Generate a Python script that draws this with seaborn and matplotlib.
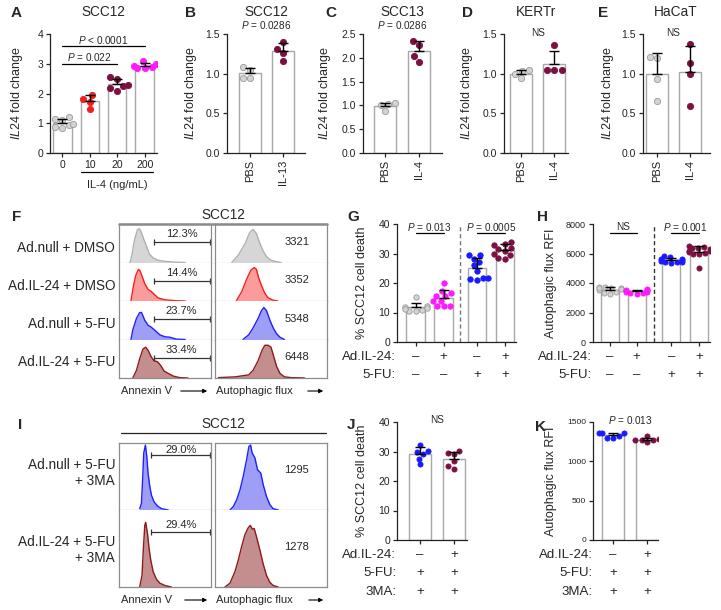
import numpy as np
import pandas as pd
import matplotlib
matplotlib.use("Agg")
import matplotlib.pyplot as plt
import seaborn as sns
from matplotlib.lines import Line2D
from matplotlib.ticker import FormatStrFormatter

# ---- data ----
GRAY, RED, MAROON, MAGENTA, BLUE = "#d3d3d3", "#f21d1d", "#7c1040", "#ff19ff", "#1a1aff"

a_groups = ["0", "10", "20", "200"]
a_vals = [[1.15, 1.2, 1.12, 0.95, 0.98, 0.85, 0.88],
          [1.82, 1.96, 1.73, 1.47],
          [2.55, 2.5, 2.3, 2.25, 2.1, 2.2],
          [3.08, 3.0, 2.92, 2.9, 2.87, 2.85]]
b_groups = ["PBS", "IL-13"]
b_vals = [[1.04, 1.08, 0.95, 0.94], [1.40, 1.31, 1.26, 1.16]]
c_groups = ["PBS", "IL-4"]
c_vals = [[1.04, 1.0, 1.02, 0.88], [2.27, 2.36, 1.92, 2.03]]
d_groups = ["PBS", "IL-4"]
d_vals = [[1.04, 1.03, 0.99, 0.94], [1.36, 1.04, 1.04, 1.04]]
e_groups = ["PBS", "IL-4"]
e_vals = [[1.20, 1.21, 0.93, 0.65], [1.37, 1.13, 1.0, 0.59]]

g_vals = [[15.1, 12.2, 11.5, 11.8, 11.0, 10.6, 11.2, 10.4],
          [20.0, 17.4, 16.7, 15.6, 15.5, 14.0, 13.8, 12.2, 12.3, 12.1],
          [29.6, 29.4, 28.3, 27.0, 24.2, 21.6, 21.3, 21.8, 21.0, 26.0],
          [34.0, 33.2, 33.0, 31.8, 31.5, 31.0, 30.0, 28.5, 28.3, 29.5]]
h_vals = [[3750, 3720, 3680, 3650, 3600, 3500, 3400, 3300, 3250, 3650],
          [3600, 3550, 3500, 3450, 3400, 3350, 3300, 3250, 3500, 3400],
          [5800, 5750, 5650, 5600, 5550, 5500, 5450, 5400, 5350, 5450],
          [6500, 6450, 6400, 6350, 6300, 6200, 6150, 6100, 6050, 6000, 5950, 5000]]
gh_il24 = ["–", "+", "–", "+"]
gh_5fu = ["–", "–", "+", "+"]

j_vals = [[32.3, 30.2, 29.9, 29.3, 27.6, 25.6], [30.2, 29.6, 29.1, 26.7, 24.2, 25.0]]
k_vals = [[1360, 1355, 1360, 1295, 1300, 1320], [1275, 1275, 1275, 1280, 1320, 1240]]
jk_il24 = ["–", "+"]
jk_5fu = ["+", "+"]
jk_3ma = ["+", "+"]

# flow histograms (x = intensity 0-100, y = fraction of row height)
f_labels = ["Ad.null + DMSO", "Ad.IL-24 + DMSO", "Ad.null + 5-FU", "Ad.IL-24 + 5-FU"]
f_pct = ["12.3%", "14.4%", "23.7%", "33.4%"]
f_rfi = ["3321", "3352", "5348", "6448"]
f_ann_x = [[12, 14, 17, 20, 22, 24, 27, 31, 33, 37, 42, 50, 61, 72],
           [13, 15, 18, 21, 22.5, 25, 28, 31.6, 35, 38, 42.5, 50, 61, 72],
           [13, 15, 19, 22.5, 24.5, 28, 31.6, 35, 39, 44.5, 50, 55, 62.5, 72],
           [15, 19, 22.5, 26, 29, 31.6, 35, 38, 42, 45.5, 49, 53.5, 59, 66, 75]]
f_ann_y = [[0, 0.2, 0.6, 0.85, 0.88, 0.8, 0.6, 0.35, 0.22, 0.12, 0.06, 0.03, 0.01, 0],
           [0, 0.3, 0.65, 0.82, 0.8, 0.65, 0.45, 0.3, 0.25, 0.18, 0.08, 0.03, 0.01, 0],
           [0, 0.25, 0.55, 0.7, 0.7, 0.5, 0.37, 0.32, 0.24, 0.12, 0.07, 0.06, 0.01, 0],
           [0, 0.2, 0.5, 0.75, 0.8, 0.72, 0.55, 0.45, 0.42, 0.32, 0.18, 0.12, 0.05, 0.01, 0]]
f_af_x = [[15, 21, 27, 31, 34, 37, 40, 43, 46, 50, 55, 59],
          [19, 24, 28, 32, 35, 37, 39, 41.5, 44.5, 47.5, 52, 56],
          [25, 30, 34, 38.5, 41.5, 43.6, 46, 49, 52, 55, 58, 62],
          [3, 18, 30, 34, 38.5, 42, 44.5, 47.5, 50, 52, 55, 58, 62, 68, 80]]
f_af_y = [[0, 0.2, 0.5, 0.78, 0.86, 0.75, 0.5, 0.3, 0.15, 0.06, 0.02, 0],
          [0, 0.25, 0.55, 0.8, 0.87, 0.82, 0.6, 0.4, 0.2, 0.08, 0.02, 0],
          [0, 0.12, 0.3, 0.55, 0.75, 0.83, 0.75, 0.5, 0.3, 0.15, 0.06, 0],
          [0.01, 0.03, 0.08, 0.2, 0.45, 0.72, 0.85, 0.85, 0.8, 0.6, 0.3, 0.12, 0.03, 0.01, 0]]

i_labels = ["Ad.null + 5-FU\n+ 3MA", "Ad.IL-24 + 5-FU\n+ 3MA"]
i_pct = ["29.0%", "29.4%"]
i_rfi = ["1295", "1278"]
i_ann_x = [[22.5, 24.4, 25.5, 26.9, 28.7, 30.2, 31.6, 33.5, 35.3, 38.2, 41.8, 46.2, 53.5],
           [22.5, 25, 26.5, 28, 29, 30.9, 32.7, 34.5, 37.1, 40.7, 44.4, 49.8, 57]]
i_ann_y = [[0.02, 0.1, 0.4, 0.85, 0.97, 0.8, 0.55, 0.35, 0.22, 0.12, 0.06, 0.02, 0],
           [0, 0.15, 0.5, 0.8, 0.84, 0.7, 0.5, 0.35, 0.2, 0.1, 0.05, 0.02, 0]]
i_af_x = [[13.4, 16.3, 19.3, 22.3, 25.2, 28.2, 30.3, 31.8, 33.2, 35.6, 38, 40.9, 43, 46, 49, 51.9, 56.4],
          [8.9, 13.4, 17.8, 20.8, 23.7, 26.7, 29.7, 31.5, 33.5, 35, 37.1, 40.1, 43, 46, 49, 51.9, 56.4]]
i_af_y = [[0, 0.05, 0.15, 0.3, 0.5, 0.75, 0.95, 0.97, 0.85, 0.78, 0.6, 0.55, 0.38, 0.2, 0.08, 0.02, 0],
          [0, 0.05, 0.2, 0.35, 0.52, 0.68, 0.77, 0.8, 0.75, 0.76, 0.65, 0.48, 0.3, 0.15, 0.06, 0.02, 0]]

FLOW_FACE = {"gray": "#d6d6d6", "red": "#fa9c9c", "blue": "#9e9ef6", "maroon": "#c58e8e"}
FLOW_EDGE = {"gray": "#b0b0b0", "red": "#ff1a1a", "blue": "#1f1fff", "maroon": "#8c1a1a"}

# ---- style ----
sns.set_style("ticks")
plt.rcParams["font.family"] = ["Liberation Sans", "DejaVu Sans"]
plt.rcParams["mathtext.fontset"] = "custom"
plt.rcParams["mathtext.it"] = "Liberation Sans:italic"
plt.rcParams["mathtext.rm"] = "Liberation Sans"
plt.rcParams["axes.linewidth"] = 0.9
plt.rcParams["axes.edgecolor"] = "#222222"

W, H = 721, 610
fig = plt.figure(figsize=(W / 100, H / 100), dpi=100)


def add_ax(x0, y0, x1, y1):
    return fig.add_axes([x0 / W, 1 - y1 / H, (x1 - x0) / W, (y1 - y0) / H])


def ftext(x, y, s, **kw):
    fig.text(x / W, 1 - y / H, s, **kw)


def bar_panel(box, pos, values, colors, ymax, ystep, xlim, ylab, lab_off, size, ylab_fs=9):
    ax = add_ax(*box)
    rows = [(p, v) for p, vals in zip(pos, values) for v in vals]
    df = pd.DataFrame(rows, columns=["pos", "val"])
    sns.barplot(data=df, x="pos", y="val", native_scale=True, errorbar=None, width=0.67,
                color="white", edgecolor="#a8a8a8", linewidth=1, ax=ax)
    for p, c in zip(pos, colors):
        sub = df[df["pos"] == p]
        edge = "#9a9a9a" if c == GRAY else c
        sns.swarmplot(data=sub, x="pos", y="val", native_scale=True, color=c, edgecolor=edge,
                      linewidth=0.6, size=size, ax=ax, zorder=3, warn_thresh=1)
    means = [np.mean(v) for v in values]
    sds = [np.std(v, ddof=1) for v in values]
    ax.errorbar(pos, means, yerr=[np.zeros(len(pos)), sds], fmt="none", ecolor="black",
                elinewidth=1, capsize=3.5, capthick=1, zorder=4)
    ax.set_xlim(*xlim)
    ax.set_ylim(0, ymax)
    ax.set_yticks(np.arange(0, ymax + ystep / 2, ystep))
    ax.set_xticks(pos)
    ax.tick_params(length=3, width=0.9, labelsize=7.5, pad=2, colors="#222222")
    ax.set_xlabel("")
    ax.set_ylabel(ylab, fontsize=ylab_fs)
    ax.yaxis.set_label_coords(-lab_off / (box[2] - box[0]), 0.5)
    sns.despine(ax=ax)
    return ax


def pval(ax, x0, x1, y_line, y_text, label, line=True):
    tr = ax.get_xaxis_transform()
    if line:
        ax.plot([x0, x1], [y_line, y_line], color="black", lw=0.9, transform=tr, clip_on=False)
    ax.text((x0 + x1) / 2, y_text, label, transform=tr, ha="center", va="center", fontsize=7.2)


def sign_rows(ax, pos, labels, signs, ys):
    tr = ax.get_xaxis_transform()
    for lab, row, y in zip(labels, signs, ys):
        ax.text(-0.01, y, lab, transform=ax.transAxes, ha="right", va="center", fontsize=9.5)
        for p, s in zip(pos, row):
            ax.text(p, y, s, transform=tr, ha="center", va="center", fontsize=9.5)


def flow_box(x0, x1, edges, xs_list, ys_list, keys, pcts=None, nums=None, br=None, tx=None, ny=None, x_br0=38):
    n = len(xs_list)
    for i in range(n):
        ax = add_ax(x0, edges[i], x1, edges[i + 1])
        fc, ec = FLOW_FACE[keys[i]], FLOW_EDGE[keys[i]]
        ax.fill_between(xs_list[i], ys_list[i], color=fc, lw=0)
        sns.lineplot(x=xs_list[i], y=ys_list[i], sort=False, estimator=None, color=ec, lw=1, ax=ax)
        ax.set_xlim(0, 100)
        ax.set_ylim(0, 1)
        ax.set_xticks([])
        ax.set_yticks([])
        ax.set_xlabel("")
        ax.set_ylabel("")
        for s in ["left", "right", "top"]:
            ax.spines[s].set_color("#8c8c8c")
        ax.spines["top"].set_visible(i == 0)
        ax.spines["bottom"].set_color(fc if i < n - 1 else "#8c8c8c")
        if pcts is not None:
            ax.plot([x_br0, 99], [br[i], br[i]], color="#333333", lw=0.9, marker="|", ms=4, mew=0.9)
            ax.text(68, tx[i], pcts[i], ha="center", va="center", fontsize=8)
        if nums is not None:
            ax.text(73, ny[i], nums[i], ha="center", va="center", fontsize=8)


def arrow(x0, x1, y):
    fig.add_artist(matplotlib.patches.FancyArrowPatch(
        (x0 / W, 1 - y / H), (x1 / W, 1 - y / H), transform=fig.transFigure,
        arrowstyle="-|>", mutation_scale=6, lw=0.8, color="black"))


IL24LAB = r"$\mathit{IL24}$ fold change"

# ---- A ----
ax = bar_panel((50, 34, 157, 153), [0, 1, 2, 3], a_vals, [GRAY, RED, MAROON, MAGENTA],
               4, 1, (-0.45, 3.45), IL24LAB, 25, 4.5)
ax.set_xticklabels(a_groups)
pval(ax, 0, 3, 0.899, 0.95, r"$\mathit{P}$ < 0.0001")
pval(ax, 0, 2, 0.748, 0.807, r"$\mathit{P}$ = 0.022")
tr = ax.get_xaxis_transform()
ax.plot([0.68, 3.32], [-0.16, -0.16], color="black", lw=0.9, transform=tr, clip_on=False)
ax.text(2, -0.265, "IL-4 (ng/mL)", transform=tr, ha="center", va="center", fontsize=8)

# ---- B-E ----
panels = [((227, 34, 305, 153), b_groups, b_vals, 1.5, 0.5, (-0.7, 1.67), 28, r"$\mathit{P}$ = 0.0286"),
          ((363, 34, 442, 153), c_groups, c_vals, 2.5, 0.5, (-0.65, 1.68), 30, r"$\mathit{P}$ = 0.0286"),
          ((504, 34, 568, 153), d_groups, d_vals, 1.5, 0.5, (-0.52, 1.42), 29, "NS"),
          ((643, 34, 710, 153), e_groups, e_vals, 1.5, 0.5, (-0.42, 1.6), 27, "NS")]
for box, groups, vals, ymax, ystep, xlim, off, ptxt in panels:
    ax = bar_panel(box, [0, 1], vals, [GRAY, MAROON], ymax, ystep, xlim, IL24LAB, off, 4.5)
    ax.set_xticklabels(groups, rotation=90, fontsize=8)
    ax.yaxis.set_major_formatter(FormatStrFormatter("%.1f"))
    y_t = (153 - 25) / 119 if ptxt != "NS" else (153 - 33) / 119
    pval(ax, 0, 1, 0, y_t, ptxt, line=False)

titles = [(103, "SCC12"), (266, "SCC12"), (402, "SCC13"), (536, "KERTr"), (676, "HaCaT")]
for x, t in titles:
    ftext(x, 12, t, ha="center", va="center", fontsize=9.8)

# ---- G / H ----
g_pos = [0, 1, 2.2, 3.2]
ax = bar_panel((397, 224, 516, 342), g_pos, g_vals, [GRAY, MAGENTA, BLUE, MAROON],
               40, 10, (-0.67, 3.6), "% SCC12 cell death", 29, 3.9)
ax.set_xticklabels([])
ax.axvline(1.6, color="#777777", lw=1, ls=(0, (3, 2)))
pval(ax, 0, 1, 0.926, 0.975, r"$\mathit{P}$ = 0.013")
pval(ax, 2.2, 3.2, 0.926, 0.975, r"$\mathit{P}$ = 0.0005")
sign_rows(ax, g_pos, ["Ad.IL-24:", "5-FU:"], [gh_il24, gh_5fu], [-0.127, -0.28])

h_pos = [0, 1, 2.3, 3.35]
ax = bar_panel((593, 224, 710, 342), h_pos, h_vals, [GRAY, MAGENTA, BLUE, MAROON],
               8000, 2000, (-0.64, 3.75), "Autophagic flux RFI", 36, 3.7)
ax.tick_params(axis="y", labelsize=6.5)
ax.set_xticklabels([])
ax.axvline(1.65, color="#333333", lw=1, ls=(0, (3, 2)))
pval(ax, 0, 1, 0.926, 0.975, "NS")
pval(ax, 2.3, 3.35, 0.926, 0.975, r"$\mathit{P}$ = 0.001")
sign_rows(ax, h_pos, ["Ad.IL-24:", "5-FU:"], [gh_il24, gh_5fu], [-0.127, -0.28])

# ---- J / K ----
ax = bar_panel((397, 422, 467, 540), [0, 1], j_vals, [BLUE, MAROON],
               40, 10, (-0.68, 1.38), "% SCC12 cell death", 29, 3.7)
ax.set_xticklabels([])
pval(ax, 0, 1, 0, 1.017, "NS", line=False)
sign_rows(ax, [0, 1], ["Ad.IL-24:", "5-FU:", "3MA:"], [jk_il24, jk_5fu, jk_3ma], [-0.127, -0.28, -0.44])

ax = bar_panel((593, 422, 658, 540), [0, 1], k_vals, [BLUE, MAROON],
               1500, 500, (-0.59, 1.32), "Autophagic flux RFI", 36, 3.7)
ax.tick_params(axis="y", labelsize=6)
ax.set_xticklabels([])
pval(ax, 0, 1, 0, 1.017, r"$\mathit{P}$ = 0.013", line=False)
sign_rows(ax, [0, 1], ["Ad.IL-24:", "5-FU:", "3MA:"], [jk_il24, jk_5fu, jk_3ma], [-0.127, -0.28, -0.44])

# ---- F ----
f_keys = ["gray", "red", "blue", "maroon"]
f_edges = [224, 262.5, 301, 339.5, 378]
flow_box(119, 211, f_edges, f_ann_x, f_ann_y, f_keys, pcts=f_pct,
         br=[0.53] * 4, tx=[0.74] * 4, x_br0=38)
flow_box(215, 327, f_edges, f_af_x, f_af_y, f_keys, nums=f_rfi, ny=[0.54] * 4)
fig.add_artist(Line2D([119 / W, 327 / W], [1 - 223.5 / H] * 2, color="#8c8c8c", lw=1.8))
ftext(223, 215, "SCC12", ha="center", va="center", fontsize=9.8)
for lab, yc in zip(f_labels, [247.5, 286, 324, 362]):
    ftext(115, yc, lab, ha="right", va="center", fontsize=9.8)
ftext(121, 391, "Annexin V", ha="left", va="center", fontsize=8)
arrow(178, 210, 391)
ftext(216, 391, "Autophagic flux", ha="left", va="center", fontsize=8)
arrow(305, 326, 391)

# ---- I ----
i_keys = ["blue", "maroon"]
i_edges = [443, 510, 587]
flow_box(119, 211, i_edges, i_ann_x, i_ann_y, i_keys, pcts=i_pct,
         br=[0.82, 0.72], tx=[0.9, 0.8], x_br0=35)
flow_box(215, 327, i_edges, i_af_x, i_af_y, i_keys, nums=i_rfi, ny=[0.59, 0.52])
fig.add_artist(Line2D([121 / W, 326 / W], [1 - 433 / H] * 2, color="#222222", lw=0.9))
ftext(223, 424, "SCC12", ha="center", va="center", fontsize=9.8)
for lab, yc in zip(i_labels, [473, 550]):
    ftext(115, yc, lab, ha="right", va="center", fontsize=9.8, multialignment="right")
ftext(121, 600, "Annexin V", ha="left", va="center", fontsize=8)
arrow(182, 210, 600)
ftext(216, 600, "Autophagic flux", ha="left", va="center", fontsize=8)
arrow(306, 326, 600)

# ---- panel letters ----
letters = [("A", 16, 13), ("B", 190, 13), ("C", 331, 13), ("D", 467, 13), ("E", 603, 13),
           ("F", 17, 217), ("G", 353, 217), ("H", 542, 217),
           ("I", 20, 425), ("J", 351, 425), ("K", 541, 427)]
for s, x, y in letters:
    ftext(x, y, s, ha="center", va="center", fontsize=11, fontweight="bold")

fig.savefig("out.png", dpi=100)
